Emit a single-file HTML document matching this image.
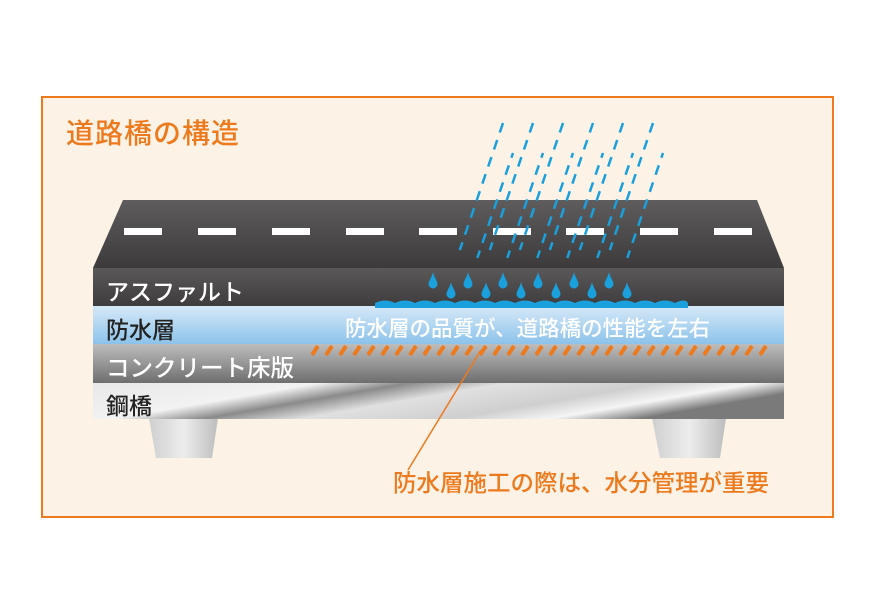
<!DOCTYPE html>
<html><head><meta charset="utf-8"><style>
body{margin:0;width:875px;height:615px;background:#fff;overflow:hidden;position:relative;font-family:"Liberation Sans","Noto Sans CJK JP",sans-serif}
.frame{position:absolute;left:41px;top:96px;width:789px;height:418px;border:2px solid #ee7a1e;background:#fcf2e6}
.t{position:absolute;white-space:nowrap;font-weight:500}
</style></head><body>
<div class="frame"></div>
<div class="t" style="left:66px;top:112px;font-size:28px;color:#ee7a1e;letter-spacing:1px">道路橋の構造</div>
<svg style="position:absolute;left:0;top:0" width="875" height="615">
<defs>
<linearGradient id="top" x1="0" y1="0" x2="0" y2="1"><stop offset="0" stop-color="#5e5c5c"/><stop offset="1" stop-color="#3c3a3a"/></linearGradient>
<linearGradient id="asp" x1="0" y1="0" x2="0" y2="1"><stop offset="0" stop-color="#5a5858"/><stop offset="1" stop-color="#3e3c3c"/></linearGradient>
<linearGradient id="wp" x1="0" y1="0" x2="0" y2="1"><stop offset="0" stop-color="#d6e9f8"/><stop offset="1" stop-color="#8cc3ea"/></linearGradient>
<linearGradient id="con" x1="0" y1="0" x2="0" y2="1"><stop offset="0" stop-color="#bdbdbd"/><stop offset="1" stop-color="#6e6e6e"/></linearGradient>
<linearGradient id="st" x1="0" y1="0" x2="1" y2="0.3"><stop offset="0" stop-color="#e8e8e8"/><stop offset="0.3" stop-color="#f2f2f2"/><stop offset="0.42" stop-color="#8a8a8a"/><stop offset="0.55" stop-color="#e0e0e0"/><stop offset="0.75" stop-color="#cfcfcf"/><stop offset="0.88" stop-color="#f5f5f5"/><stop offset="1" stop-color="#7a7a7a"/></linearGradient>
<linearGradient id="leg" x1="0" y1="0" x2="1" y2="0"><stop offset="0" stop-color="#cfcfcf"/><stop offset="0.5" stop-color="#ededed"/><stop offset="1" stop-color="#bdbdbd"/></linearGradient>
</defs>
<polygon points="149,418 218,418 212,458 156,458" fill="url(#leg)"/>
<polygon points="652,418 726,418 720,458 660,458" fill="url(#leg)"/>
<polygon points="123,200 757,200 784,268 93,268" fill="url(#top)"/>
<g fill="#fff">
<rect x="124" y="228" width="38" height="7"/><rect x="198" y="228" width="38" height="7"/><rect x="272" y="228" width="38" height="7"/><rect x="346" y="228" width="38" height="7"/><rect x="419" y="228" width="38" height="7"/><rect x="493" y="228" width="38" height="7"/><rect x="566" y="228" width="38" height="7"/><rect x="640" y="228" width="38" height="7"/><rect x="714" y="228" width="38" height="7"/>
</g>
<rect x="93" y="268" width="691" height="38" fill="url(#asp)"/>
<rect x="93" y="306" width="691" height="38" fill="url(#wp)"/>
<rect x="93" y="344" width="691" height="39" fill="url(#con)"/>
<rect x="93" y="383" width="691" height="36" fill="url(#st)"/>
<g stroke="#ee7a1e" stroke-width="4" id="stripes"></g>
<line x1="481" y1="350" x2="408" y2="470" stroke="#ee7a1e" stroke-width="1.5"/>
<g stroke="#1aa0dc" stroke-width="2.5" stroke-dasharray="10,8" fill="none" id="rain"></g>
<g fill="#1aa0dc" id="drops"></g>
<path d="M375,303 q10,-5 20,0 q10,-5 20,0 q10,-5 20,0 q10,-5 20,0 q10,-5 20,0 q10,-5 20,0 q10,-5 20,0 q10,-5 20,0 q10,-5 20,0 q10,-5 20,0 q10,-5 20,0 q10,-5 20,0 q10,-5 20,0 q10,-5 20,0 q10,-5 20,0 q10,-5 13,0 l0,5 l-313,0 z" fill="#1aa0dc"/>
</svg>
<div class="t" style="left:106px;top:273px;font-size:23px;color:#fff">アスファルト</div>
<div class="t" style="left:106px;top:311px;font-size:23px;color:#222">防水層</div>
<div class="t" style="left:345px;top:312px;font-size:21.5px;color:#fff">防水層の品質が、道路橋の性能を左右</div>
<div class="t" style="left:106px;top:349px;font-size:23.5px;color:#fff">コンクリート床版</div>
<div class="t" style="left:106px;top:387px;font-size:23px;color:#222">鋼橋</div>
<div class="t" style="left:393px;top:464px;font-size:23.5px;color:#ee7a1e">防水層施工の際は、水分管理が重要</div>
<script>
var ns="http://www.w3.org/2000/svg";
var g=document.getElementById("stripes");
for(var x=312;x<765;x+=14){var l=document.createElementNS(ns,"line");l.setAttribute("x1",x);l.setAttribute("y1",355);l.setAttribute("x2",x+6);l.setAttribute("y2",346);g.appendChild(l);}
var r=document.getElementById("rain");
function ln(x1,y1,y2,off){var l=document.createElementNS(ns,"line");l.setAttribute("x1",x1);l.setAttribute("y1",y1);l.setAttribute("x2",x1-(y2-y1)*0.34);l.setAttribute("y2",y2);l.setAttribute("stroke-dashoffset",off);r.appendChild(l);}
for(var k=0;k<6;k++){ln(503+30*k,123,250,0);ln(513+30*k+10*0.34*0,153,258,5);}
var d=document.getElementById("drops");
function drop(x,y){var p=document.createElementNS(ns,"path");p.setAttribute("d","M"+x+","+(y-9)+" C"+(x+1)+","+(y-4)+" "+(x+4.5)+","+(y)+" "+(x+4.5)+","+(y+3)+" A4.5,4.5 0 0 1 "+(x-4.5)+","+(y+3)+" C"+(x-4.5)+","+y+" "+(x-1)+","+(y-4)+" "+x+","+(y-9)+"z");d.appendChild(p);}
[433,468,503,538,574,609].forEach(function(x){drop(x,281)});
[451,486,521,556,592,627].forEach(function(x){drop(x,291)});
</script>
</body></html>
